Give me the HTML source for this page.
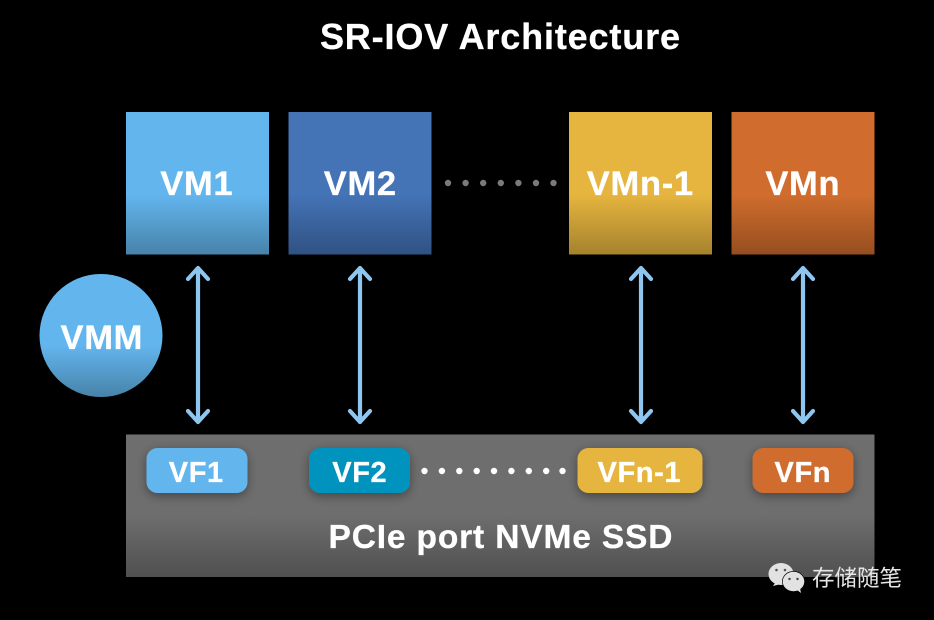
<!DOCTYPE html>
<html><head><meta charset="utf-8"><style>html,body{margin:0;padding:0;background:#000}svg{display:block}text{font-family:"Liberation Sans","Noto Sans CJK SC",sans-serif;font-weight:bold;fill:#fff;stroke:#fff;stroke-width:.3px}</style></head>
<body>
<svg xmlns="http://www.w3.org/2000/svg" width="934" height="620" viewBox="0 0 934 620">
<defs>
<linearGradient id="g1" x1="0" y1="0" x2="0" y2="1"><stop offset="0" stop-color="#63b5ee"/><stop offset=".58" stop-color="#63b5ee"/><stop offset="1" stop-color="#4783a9"/></linearGradient>
<linearGradient id="g2" x1="0" y1="0" x2="0" y2="1"><stop offset="0" stop-color="#4473b6"/><stop offset=".58" stop-color="#4473b6"/><stop offset="1" stop-color="#305283"/></linearGradient>
<linearGradient id="g3" x1="0" y1="0" x2="0" y2="1"><stop offset="0" stop-color="#e6b53f"/><stop offset=".58" stop-color="#e6b53f"/><stop offset="1" stop-color="#a5822d"/></linearGradient>
<linearGradient id="g4" x1="0" y1="0" x2="0" y2="1"><stop offset="0" stop-color="#d06d2e"/><stop offset=".58" stop-color="#d06d2e"/><stop offset="1" stop-color="#964e1f"/></linearGradient>
<linearGradient id="g5" x1="0" y1="0" x2="0" y2="1"><stop offset="0" stop-color="#6e6e6e"/><stop offset=".56" stop-color="#6e6e6e"/><stop offset="1" stop-color="#505050"/></linearGradient>
<filter id="sh" x="-20%" y="-30%" width="140%" height="170%"><feDropShadow dx="0" dy="3" stdDeviation="5" flood-color="#000" flood-opacity=".38"/></filter>
</defs>
<rect width="934" height="620" fill="#000"/>
<text x="500.400" y="49" font-size="36" letter-spacing=".85" text-anchor="middle">SR-IOV Architecture</text>

<rect x="126" y="112" width="143" height="142.500" fill="url(#g1)"/>
<rect x="288.500" y="112" width="143" height="142.500" fill="url(#g2)"/>
<rect x="569" y="112" width="143" height="142.500" fill="url(#g3)"/>
<rect x="731.500" y="112" width="143" height="142.500" fill="url(#g4)"/>
<text x="196.800" y="195" font-size="34.500" letter-spacing=".7" text-anchor="middle">VM1</text>
<text x="360.300" y="195" font-size="34.500" letter-spacing=".7" text-anchor="middle">VM2</text>
<text x="640.300" y="195" font-size="34.500" letter-spacing=".7" text-anchor="middle">VMn-1</text>
<text x="802.800" y="195" font-size="34.500" letter-spacing=".7" text-anchor="middle">VMn</text>

<g fill="#7a7a7a">
<circle cx="448" cy="183" r="3.200"/><circle cx="465.600" cy="183" r="3.200"/><circle cx="483.200" cy="183" r="3.200"/><circle cx="500.800" cy="183" r="3.200"/><circle cx="518.400" cy="183" r="3.200"/><circle cx="536" cy="183" r="3.200"/><circle cx="553.500" cy="183" r="3.200"/>
</g>

<circle cx="101" cy="335.500" r="61.500" fill="url(#g1)"/>
<text x="101.800" y="349" font-size="34.500" letter-spacing=".7" text-anchor="middle">VMM</text>

<g fill="none" stroke="#8fc6f0" stroke-width="4.200" stroke-linecap="round" stroke-linejoin="round">
<path d="M198 269V422M188 279L198 268L208 279M188 411L198 422L208 411"/>
<path d="M360 269V422M350 279L360 268L370 279M350 411L360 422L370 411"/>
<path d="M641 269V422M631 279L641 268L651 279M631 411L641 422L651 411"/>
<path d="M803 269V422M793 279L803 268L813 279M793 411L803 422L813 411"/>
</g>

<rect x="126" y="434.500" width="748.500" height="142.500" fill="url(#g5)"/>
<rect x="146.500" y="448" width="101" height="45" rx="11" fill="#63b5ee" filter="url(#sh)"/>
<rect x="309" y="448" width="101" height="45" rx="11" fill="#0093bd" filter="url(#sh)"/>
<rect x="577.500" y="448" width="125" height="45" rx="11" fill="#e6b53f" filter="url(#sh)"/>
<rect x="752.500" y="448" width="101" height="45" rx="11" fill="#d06d2e" filter="url(#sh)"/>
<text x="196.300" y="482" font-size="29" letter-spacing=".6" text-anchor="middle">VF1</text>
<text x="359.800" y="482" font-size="29" letter-spacing=".6" text-anchor="middle">VF2</text>
<text x="639.300" y="482" font-size="29" letter-spacing=".6" text-anchor="middle">VFn-1</text>
<text x="802.800" y="482" font-size="29" letter-spacing=".6" text-anchor="middle">VFn</text>

<g fill="#fff">
<circle cx="424.500" cy="471" r="3.200"/><circle cx="441.900" cy="471" r="3.200"/><circle cx="459.300" cy="471" r="3.200"/><circle cx="476.700" cy="471" r="3.200"/><circle cx="494" cy="471" r="3.200"/><circle cx="511.400" cy="471" r="3.200"/><circle cx="528.800" cy="471" r="3.200"/><circle cx="546.200" cy="471" r="3.200"/><circle cx="562.500" cy="471" r="3.200"/>
</g>
<text x="500.900" y="548" font-size="33.500" letter-spacing=".85" text-anchor="middle">PCIe port NVMe SSD</text>

<g>
<ellipse cx="781" cy="574" rx="12.500" ry="11" fill="#e2e2e2"/>
<path d="M775 583L773 586L781 584Z" fill="#e2e2e2"/>
<ellipse cx="793.500" cy="581.500" rx="11.500" ry="10.500" fill="#000"/>
<ellipse cx="793.500" cy="581.500" rx="10.800" ry="9.800" fill="#e2e2e2"/>
<path d="M797 590L801 593L800 588Z" fill="#e2e2e2"/>
<circle cx="776.500" cy="570" r="1.300" fill="#555"/><circle cx="785" cy="570" r="1.300" fill="#555"/>
<circle cx="789.500" cy="579" r="1.200" fill="#444"/><circle cx="797.500" cy="579" r="1.200" fill="#444"/>
</g>
<text x="812" y="586" font-size="22.500" style="font-weight:normal;fill:#e6e6e6;stroke:none">存储随笔</text>
</svg>
</body></html>
